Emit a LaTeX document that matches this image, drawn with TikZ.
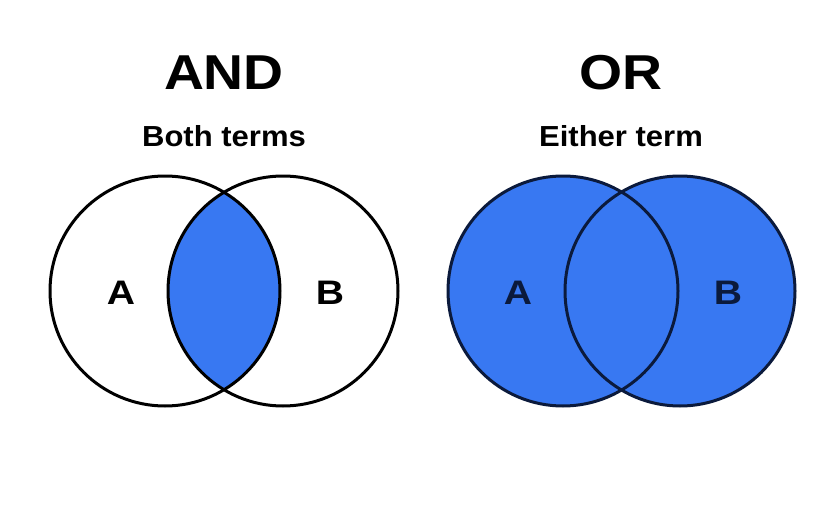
\documentclass[tikz,border=0pt]{standalone}
\usepackage{fontspec}
\usepackage{graphicx}
\setmainfont{Liberation Sans}
\definecolor{vblue}{HTML}{3878F2}
\definecolor{vnavy}{HTML}{0B1A3C}
\newcommand{\wide}[2]{\scalebox{#1}[1]{#2}}
\begin{document}
\begin{tikzpicture}[x=1pt,y=-1pt,
  ring/.style={draw=black,line width=3pt},
  title/.style={font=\fontsize{49}{52}\selectfont\bfseries},
  subtitle/.style={font=\fontsize{29}{32}\selectfont\bfseries},
  setlabel/.style={font=\fontsize{34}{38}\selectfont\bfseries}]
\useasboundingbox (0,0) rectangle (822,522);
\fill[white] (0,0) rectangle (822,522);
% AND
\node[title] (andt) at (224,73) {\wide{1.13}{AND}};
\node[subtitle] (ands) at (224,136) {\wide{1.07}{Both terms}};
\coordinate (a1) at (165,291);
\coordinate (b1) at (283,291);
\begin{scope}
  \clip (a1) circle (115);
  \fill[vblue] (b1) circle (115);
\end{scope}
\draw[ring] (a1) circle (115);
\draw[ring] (b1) circle (115);
\node[setlabel] (la1) at (121,293) {\wide{1.15}{A}};
\node[setlabel] (lb1) at (330,293) {\wide{1.15}{B}};
% OR
\node[title] (ort) at (621,73) {\wide{1.13}{OR}};
\node[subtitle] (ors) at (621,136) {\wide{1.07}{Either term}};
\coordinate (a2) at (563,291);
\coordinate (b2) at (680,291);
\fill[vblue] (a2) circle (115);
\fill[vblue] (b2) circle (115);
\draw[ring,draw=vnavy] (a2) circle (115);
\draw[ring,draw=vnavy] (b2) circle (115);
\node[setlabel,text=vnavy] (la2) at (518,293) {\wide{1.15}{A}};
\node[setlabel,text=vnavy] (lb2) at (728,293) {\wide{1.15}{B}};
\end{tikzpicture}
\end{document}
